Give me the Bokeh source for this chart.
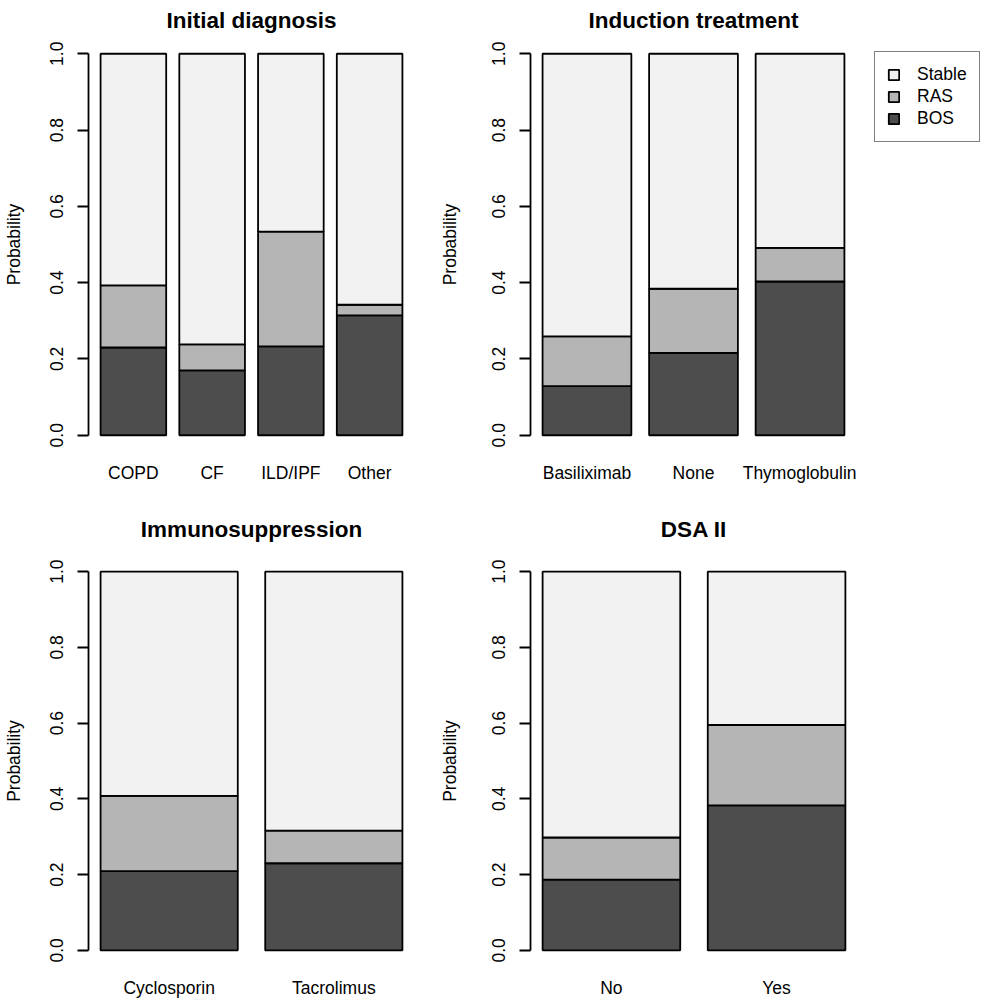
from bokeh.plotting import figure
from bokeh.layouts import column, row
from bokeh.models import Range1d, FixedTicker, PrintfTickFormatter, Legend, LegendItem, ColumnDataSource
from bokeh.embed import file_html
from bokeh.resources import INLINE

# ---------------- data ----------------
diag_cats = ["COPD", "CF", "ILD/IPF", "Other"]
diag_bos = [0.230, 0.170, 0.233, 0.314]
diag_ras = [0.163, 0.068, 0.301, 0.028]
diag_stable = [0.607, 0.762, 0.466, 0.658]

ind_cats = ["Basiliximab", "None", "Thymoglobulin"]
ind_bos = [0.129, 0.216, 0.403]
ind_ras = [0.130, 0.168, 0.088]
ind_stable = [0.741, 0.616, 0.509]

imm_cats = ["Cyclosporin", "Tacrolimus"]
imm_bos = [0.209, 0.230]
imm_ras = [0.199, 0.086]
imm_stable = [0.592, 0.684]

dsa_cats = ["No", "Yes"]
dsa_bos = [0.187, 0.383]
dsa_ras = [0.111, 0.212]
dsa_stable = [0.702, 0.405]

y_ticks = [0.0, 0.2, 0.4, 0.6, 0.8, 1.0]
series_names = ["BOS", "RAS", "Stable"]
legend_order = ["Stable", "RAS", "BOS"]
series_colors = ["#4D4D4D", "#B5B5B5", "#F2F2F2"]

FONT = "Liberation Sans"
LBL = "17.5px"
LW = 1.8


def make_panel(title, cats, bos, ras, stable, width, height, mb_left, mb_right, mb_top,
               mb_bottom, title_standoff, ylabel_standoff):
    n = len(cats)
    span = 1.2 * n - 0.2
    x0 = (0.2 - 0.04 * span - 0.7) / 1.2
    x1 = (1.2 * n + 0.04 * span - 0.7) / 1.2
    p = figure(width=width, height=height, output_backend="svg", toolbar_location=None,
               x_range=Range1d(x0, x1), y_range=Range1d(-0.04, 1.04),
               min_border_left=mb_left, min_border_right=mb_right,
               min_border_top=mb_top, min_border_bottom=mb_bottom,
               title=title)
    p.outline_line_color = None
    p.grid.visible = False
    p.background_fill_color = "white"
    p.border_fill_color = "white"
    p.title.text_font = FONT
    p.title.text_font_size = "22.5px"
    p.title.text_font_style = "bold"
    p.title.align = "center"
    p.title.text_color = "black"
    p.title.standoff = title_standoff
    p.title.offset = 0

    src = ColumnDataSource(dict(x=list(range(n)), BOS=bos, RAS=ras, Stable=stable))
    p.vbar_stack(series_names, x="x", width=1 / 1.2, color=series_colors,
                 line_color="black", line_width=LW, source=src)

    ya = p.yaxis[0]
    ya.ticker = FixedTicker(ticks=y_ticks)
    ya.formatter = PrintfTickFormatter(format="%.1f")
    ya.bounds = (0, 1)
    ya.axis_line_width = LW
    ya.axis_line_color = "black"
    ya.major_tick_line_width = LW
    ya.major_tick_line_color = "black"
    ya.major_tick_out = 11
    ya.major_tick_in = 0
    ya.minor_tick_line_color = None
    ya.minor_tick_out = 0
    ya.minor_tick_in = 0
    ya.major_label_orientation = "vertical"
    ya.major_label_standoff = 14
    ya.major_label_text_font = FONT
    ya.major_label_text_font_size = LBL
    ya.major_label_text_color = "black"
    ya.axis_label = "Probability"
    ya.axis_label_text_font = FONT
    ya.axis_label_text_font_size = LBL
    ya.axis_label_text_font_style = "normal"
    ya.axis_label_text_color = "black"
    ya.axis_label_standoff = ylabel_standoff

    xa = p.xaxis[0]
    xa.ticker = FixedTicker(ticks=list(range(n)))
    xa.major_label_overrides = {i: c for i, c in enumerate(cats)}
    xa.axis_line_color = None
    xa.major_tick_line_color = None
    xa.minor_tick_line_color = None
    xa.major_tick_out = 0
    xa.major_tick_in = 0
    xa.minor_tick_out = 0
    xa.minor_tick_in = 0
    xa.axis_label_standoff = 0
    xa.major_label_standoff = 12
    xa.major_label_text_font = FONT
    xa.major_label_text_font_size = LBL
    xa.major_label_text_color = "black"
    return p, src


p1, _ = make_panel("Initial diagnosis", diag_cats, diag_bos, diag_ras, diag_stable,
                   436, 500, 86, 22, 38, 50, 11, 24)
p2, src2 = make_panel("Induction treatment", ind_cats, ind_bos, ind_ras, ind_stable,
                      420, 500, 93, 0, 38, 50, 11, 30)
p3, _ = make_panel("Immunosuppression", imm_cats, imm_bos, imm_ras, imm_stable,
                   436, 500, 86, 22, 56, 33, 29, 24)
p4, _ = make_panel("DSA II", dsa_cats, dsa_bos, dsa_ras, dsa_stable,
                   548, 500, 93, 127, 56, 33, 29, 30)

# legend lives in its own narrow figure to the right of the induction panel;
# its glyph renderers reuse the induction data but are hidden (legend shows them only)
pl = figure(width=128, height=500, output_backend="svg", toolbar_location=None,
            x_range=Range1d(-100, -99), y_range=Range1d(10, 11),
            min_border_left=0, min_border_right=0, min_border_top=38, min_border_bottom=50)
pl.axis.visible = False
pl.grid.visible = False
pl.outline_line_color = None
rl = pl.vbar_stack(series_names, x="x", width=1 / 1.2, color=series_colors,
                   line_color="black", line_width=LW, source=src2)
for r in rl:
    r.visible = False
rmap = dict(zip(series_names, rl))
legend = Legend(items=[LegendItem(label=nm, renderers=[rmap[nm]]) for nm in legend_order],
                location=(18, 308))
legend.margin = 0
legend.padding = 12
legend.spacing = 1
legend.glyph_width = 13
legend.glyph_height = 13
legend.label_standoff = 17
legend.label_text_font = FONT
legend.label_text_font_size = LBL
legend.label_text_color = "black"
legend.border_line_color = "black"
legend.border_line_width = LW
legend.background_fill_color = "white"
legend.background_fill_alpha = 1.0
legend.inactive_fill_alpha = 0.0
pl.add_layout(legend, "center")

layout = column(row(p1, p2, pl), row(p3, p4))
open("out.html", "w").write(file_html(layout, INLINE))
